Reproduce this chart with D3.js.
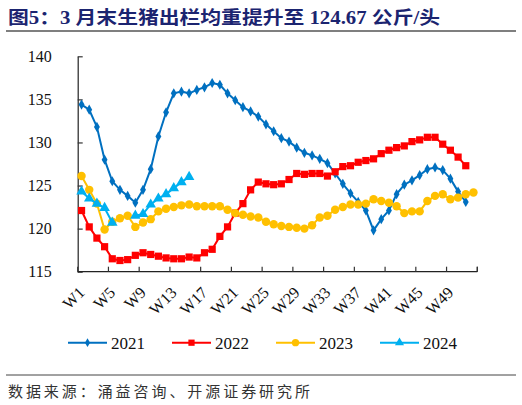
<!DOCTYPE html>
<html>
<head>
<meta charset="utf-8">
<script src="https://cdn.jsdelivr.net/npm/d3@7"></script>
<style>
  body { margin: 0; background: #fff; }
  svg { display: block; }
</style>
</head>
<body>
<svg id="chart"></svg>
<script>
// weekly data, W1..W52, null = no value
const weeks = d3.range(1, 53).map(i => "W" + i);

const y2021 = [134.4, 133.8, 131.8, 128.0, 125.5, 124.5, 123.8, 123.0, 124.5, 126.9,
  130.7, 133.5, 135.7, 135.9, 135.7, 136.1, 136.4, 136.9, 136.7, 135.7,
  134.9, 134.1, 133.6, 133.0, 132.1, 131.3, 130.5, 130.1, 129.4, 128.8,
  128.5, 128.1, 127.6, 126.4, 125.2, 124.1, 123.1, 122.1, 119.8, 121.1,
  122.1, 124.0, 125.1, 125.6, 126.2, 126.9, 127.1, 126.8, 125.8, 124.3,
  123.1, null];

const y2022 = [122.1, 120.2, 118.9, 117.9, 116.5, 116.3, 116.4, 116.9, 117.2, 117.0,
  116.8, 116.6, 116.5, 116.5, 116.7, 116.6, 117.2, 117.6, 119.1, 120.2,
  121.8, 122.9, 124.5, 125.4, 125.2, 125.1, 125.2, 125.7, 126.4, 126.3,
  126.4, 126.4, 126.1, 126.6, 127.2, 127.3, 127.7, 127.9, 128.1, 128.7,
  129.1, 129.4, 129.6, 130.1, 130.3, 130.6, 130.6, 129.8, 129.1, 128.3,
  127.3, null];

const y2023 = [126.1, 124.5, 122.9, 119.9, 120.8, 121.2, 121.5, 120.2, 120.7, 121.1,
  122.0, 122.3, 122.5, 122.7, 122.8, 122.6, 122.6, 122.6, 122.6, 122.2,
  121.8, 121.6, 121.4, 121.3, 120.8, 120.5, 120.3, 120.2, 120.1, 120.0,
  120.4, 121.3, 121.5, 122.2, 122.5, 122.8, 122.8, 122.9, 123.4, 123.2,
  123.0, 122.6, 121.8, 122.0, 122.0, 123.2, 123.8, 124.0, 123.4, 123.6,
  124.0, 124.2];

const y2024 = [124.3, 123.5, 122.9, 122.4, 120.7, null, null, 121.5, 121.7, 122.8,
  123.5, 124.0, 124.7, 125.4, 126.0];

const seriesNames = ["2021", "2022", "2023", "2024"];
const seriesData = [y2021, y2022, y2023, y2024];
const seriesColors = ["#0070C0", "#FF0000", "#FFC000", "#00B0F0"];
const seriesSymbols = [d3.symbolDiamond, d3.symbolSquare, d3.symbolCircle, d3.symbolTriangle];
const symbolSizes = [30, 52, 56, 48];

const yTicks = [115, 120, 125, 130, 135, 140];
const xTickLabels = weeks.filter((d, i) => i % 4 === 0);

const titleText = "图5：3 月末生猪出栏均重提升至 124.67 公斤/头";
const sourceText = "数据来源：涌益咨询、开源证券研究所";

const W = 522, H = 405;
const margin = {left: 77.7, right: 522 - 477.3, top: 56.3, bottom: 405 - 271.7};
const serif = "'Liberation Serif', 'Times New Roman', serif";
const cjk = "'Liberation Serif', 'Noto Sans CJK SC', serif";

const svg = d3.select("#chart").attr("width", W).attr("height", H);
svg.append("rect").attr("width", W).attr("height", H).attr("fill", "#fff");

// title
svg.append("text")
  .attr("x", 8).attr("y", 24)
  .attr("font-family", cjk)
  .attr("font-weight", "bold")
  .attr("font-size", 18)
  .attr("fill", "#1B2470")
  .attr("textLength", 432).attr("lengthAdjust", "spacingAndGlyphs")
  .text(titleText);

svg.append("line")
  .attr("x1", 6).attr("x2", 516).attr("y1", 31).attr("y2", 31)
  .attr("stroke", "#555").attr("stroke-width", 1.5);

const x = d3.scaleBand()
  .domain(weeks)
  .range([margin.left, W - margin.right]);

const y = d3.scaleLinear()
  .domain([115, 140])
  .range([H - margin.bottom, margin.top]);

const g = svg.append("g");

// y axis: line + inside ticks
const yAxis = g.append("g").attr("transform", `translate(${margin.left},0)`)
  .call(d3.axisLeft(y).tickValues(yTicks).tickSizeInner(-5).tickSizeOuter(0).tickPadding(26))
yAxis.select(".domain").attr("stroke", "#222").attr("stroke-width", 1.2);
yAxis.selectAll(".tick line").attr("stroke", "#333").attr("stroke-width", 1.2);
yAxis.selectAll(".tick text")
  .attr("font-family", serif).attr("font-size", 16).attr("fill", "#111");

// x axis: ticks between categories every 4 weeks
const xAxisY = H - margin.bottom;
const xg = g.append("g").attr("transform", `translate(0,${xAxisY})`);
xg.append("line")
  .attr("x1", margin.left).attr("x2", W - margin.right)
  .attr("stroke", "#222").attr("stroke-width", 1.2);
const boundaries = d3.range(0, weeks.length + 1, 4).map(i => margin.left + i * x.step());
boundaries.push(W - margin.right);
xg.selectAll("line.tk")
  .data(boundaries)
  .enter().append("line")
  .attr("class", "tk")
  .attr("x1", d => d).attr("x2", d => d)
  .attr("y1", 0).attr("y2", -5)
  .attr("stroke", "#333").attr("stroke-width", 1.2);

xg.selectAll("text")
  .data(xTickLabels)
  .enter().append("text")
  .attr("transform", d => `translate(${x(d) + x.bandwidth() / 2 + 4},${22}) rotate(-45)`)
  .attr("text-anchor", "end")
  .attr("font-family", serif).attr("font-size", 16).attr("fill", "#111")
  .text(d => d);

// series
const line = d3.line()
  .defined(d => d.v != null)
  .x(d => x(d.w) + x.bandwidth() / 2)
  .y(d => y(d.v));

seriesData.forEach((vals, si) => {
  const pts = vals.map((v, i) => ({w: weeks[i], v: v}));
  g.append("path")
    .datum(pts)
    .attr("fill", "none")
    .attr("stroke", seriesColors[si])
    .attr("stroke-width", 2)
    .attr("d", line);
  g.append("g").selectAll("path")
    .data(pts.filter(d => d.v != null))
    .enter().append("path")
    .attr("transform", d => `translate(${x(d.w) + x.bandwidth() / 2},${y(d.v)})`)
    .attr("d", d3.symbol().type(seriesSymbols[si]).size(symbolSizes[si]))
    .attr("fill", seriesColors[si]);
});

// legend
const legend = svg.append("g").attr("transform", "translate(68,342.7)");
seriesNames.forEach((name, i) => {
  const lg = legend.append("g").attr("transform", `translate(${i * 104},0)`);
  lg.append("line").attr("x1", 0).attr("x2", 39)
    .attr("stroke", seriesColors[i]).attr("stroke-width", 2);
  lg.append("path")
    .attr("transform", "translate(19.5,0)")
    .attr("d", d3.symbol().type(seriesSymbols[i]).size(symbolSizes[i] * 0.75))
    .attr("fill", seriesColors[i]);
  lg.append("text").attr("x", 43).attr("y", 0).attr("dy", "0.35em")
    .attr("font-family", serif).attr("font-size", 17).attr("fill", "#111")
    .text(name);
});

// source footer
svg.append("line")
  .attr("x1", 6).attr("x2", 516).attr("y1", 375).attr("y2", 375)
  .attr("stroke", "#444").attr("stroke-width", 1);
svg.append("text")
  .attr("x", 8).attr("y", 397)
  .attr("font-family", "'Noto Sans CJK SC', sans-serif")
  .attr("font-size", 15).attr("fill", "#333")
  .attr("textLength", 302).attr("lengthAdjust", "spacing")
  .text(sourceText);
</script>
</body>
</html>
